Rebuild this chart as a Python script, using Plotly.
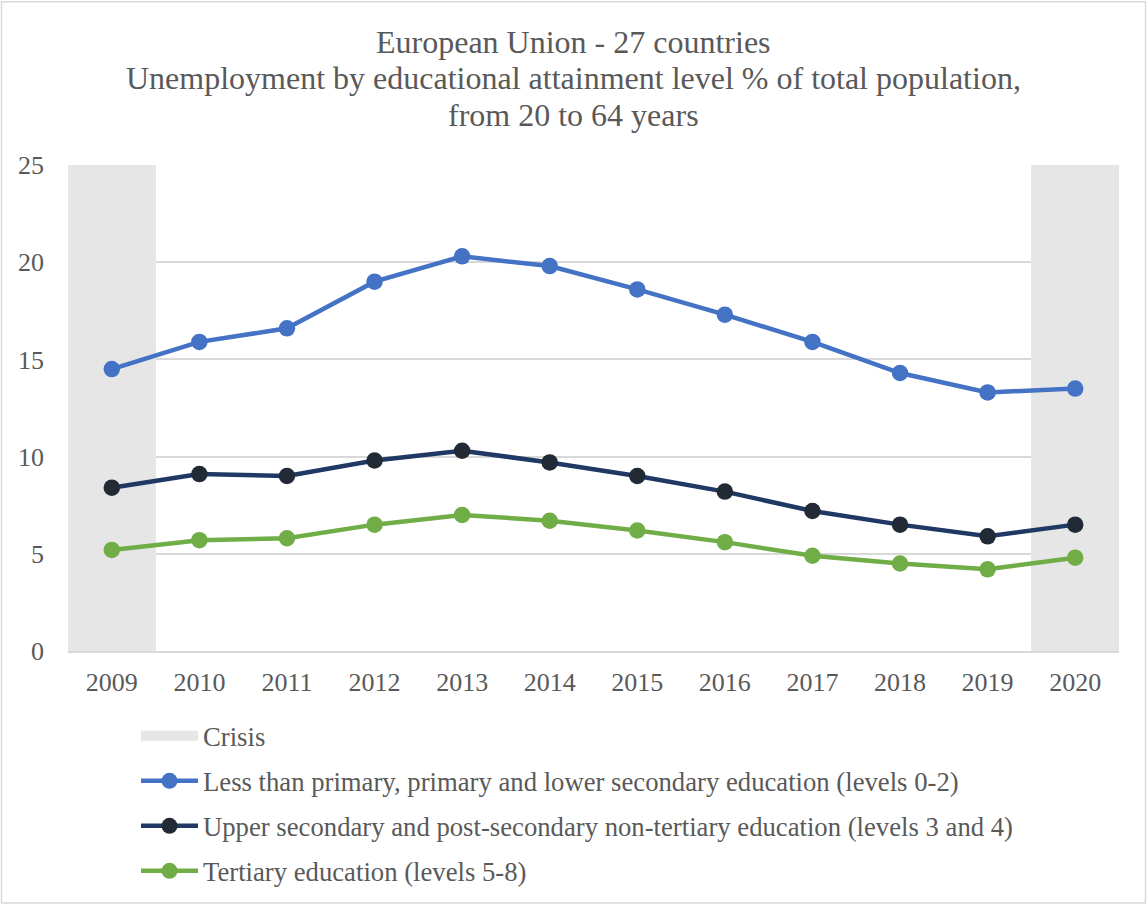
import plotly.graph_objects as go

years = ["2009", "2010", "2011", "2012", "2013", "2014", "2015", "2016", "2017", "2018", "2019", "2020"]
crisis_years = ["2009", "2020"]
crisis_values = [25, 25]
less_primary = [14.5, 15.9, 16.6, 19.0, 20.3, 19.8, 18.6, 17.3, 15.9, 14.3, 13.3, 13.5]
upper_secondary = [8.4, 9.1, 9.0, 9.8, 10.3, 9.7, 9.0, 8.2, 7.2, 6.5, 5.9, 6.5]
tertiary = [5.2, 5.7, 5.8, 6.5, 7.0, 6.7, 6.2, 5.6, 4.9, 4.5, 4.2, 4.8]
title_lines = ["European Union - 27 countries",
               "Unemployment by educational attainment level % of total population,",
               "from 20 to 64 years"]

FONT = "Liberation Serif"
TXT = "#595959"

W, H = 1147, 906
L, R, T, B = 68, 28, 165, 254
pw, ph = W - L - R, H - T - B

def px_x(x):
    return (x - L) / pw

def px_y(y):
    return (H - B - y) / ph

fig = go.Figure()
fig.add_trace(go.Bar(x=crisis_years, y=crisis_values, width=1, showlegend=False,
                     marker=dict(color="#e7e6e6", line=dict(width=0)), hoverinfo="skip"))
fig.add_trace(go.Scatter(x=[None], y=[None], mode="lines", name="Crisis", showlegend=True,
                         line=dict(color="#e7e6e6", width=14), legend="legend"))
fig.add_trace(go.Scatter(x=years, y=less_primary, mode="lines+markers", showlegend=True,
                         name="Less than primary, primary and lower secondary education (levels 0-2)",
                         line=dict(color="#4472c4", width=4.5),
                         marker=dict(color="#4472c4", size=16.5), legend="legend2"))
fig.add_trace(go.Scatter(x=years, y=upper_secondary, mode="lines+markers", showlegend=True,
                         name="Upper secondary and post-secondary non-tertiary education (levels 3 and 4)",
                         line=dict(color="#203864", width=4.5),
                         marker=dict(color="#222a35", size=16.5), legend="legend3"))
fig.add_trace(go.Scatter(x=years, y=tertiary, mode="lines+markers", showlegend=True,
                         name="Tertiary education (levels 5-8)",
                         line=dict(color="#70ad47", width=4.5),
                         marker=dict(color="#70ad47", size=16.5), legend="legend4"))

leg_common = dict(font=dict(family=FONT, size=26.7, color=TXT), bgcolor="rgba(0,0,0,0)",
                  xanchor="left", yanchor="middle", x=px_x(136), itemwidth=57)

annotations = []
for txt, yc in zip(title_lines, [42, 78, 115]):
    annotations.append(dict(text=txt, xref="paper", yref="paper", x=px_x(573.5), y=px_y(yc),
                            xanchor="center", yanchor="middle", showarrow=False,
                            font=dict(family=FONT, size=32, color=TXT)))

fig.update_layout(
    width=W, height=H,
    margin=dict(l=L, r=R, t=T, b=B),
    paper_bgcolor="white", plot_bgcolor="white",
    font=dict(family=FONT, color=TXT),
    annotations=annotations,
    xaxis=dict(type="category", categoryorder="array", categoryarray=years,
               showgrid=False, showline=True, linecolor="#d9d9d9", linewidth=1.5,
               ticks="", tickfont=dict(family=FONT, size=26, color=TXT), ticklabelstandoff=7,
               range=[-0.5, 11.5], zeroline=False),
    yaxis=dict(range=[0, 25], dtick=5, showgrid=True, gridcolor="#d9d9d9", gridwidth=1.5,
               zeroline=False, showline=False, ticks="",
               tickfont=dict(family=FONT, size=26, color=TXT), ticklabelstandoff=23),
    bargap=0,
    legend=dict(**leg_common, y=px_y(736)),
    legend2=dict(**leg_common, y=px_y(781)),
    legend3=dict(**leg_common, y=px_y(826)),
    legend4=dict(**leg_common, y=px_y(871)),
    shapes=[dict(type="rect", xref="paper", yref="paper",
                 x0=px_x(1.5), x1=px_x(1145.5), y0=px_y(904.5), y1=px_y(1.5),
                 line=dict(color="#d9d9d9", width=1.5), fillcolor="rgba(0,0,0,0)", layer="below")],
)

fig.write_html("out.html", config={"displayModeBar": False},
               post_script="document.body.style.margin='0';document.body.style.overflow='hidden';")
